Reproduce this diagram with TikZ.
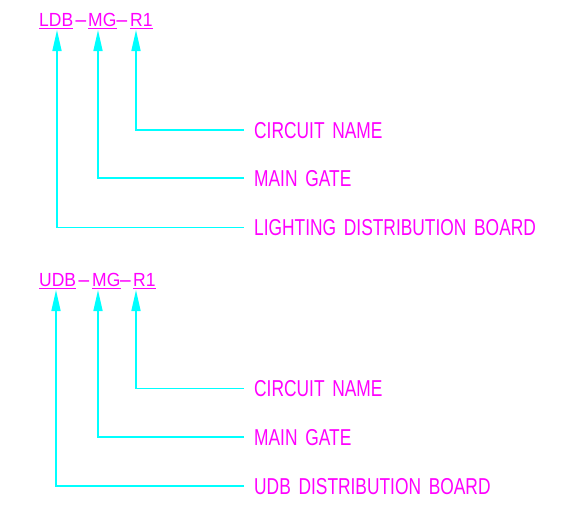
\documentclass[tikz,border=0pt]{standalone}
\usepackage{fontspec}
\newfontfamily\lblfont[FakeStretch=0.755,WordSpace=1.6]{Liberation Sans}
\newfontfamily\ttlfont[FakeStretch=0.92]{Liberation Sans}
\usetikzlibrary{arrows.meta}
\definecolor{cadmag}{RGB}{255,0,255}
\definecolor{cadcyan}{RGB}{0,255,255}
\begin{document}
\begin{tikzpicture}[x=1pt,y=-1pt,
  lbl/.style={anchor=west, inner xsep=10pt, inner ysep=0pt, text height=16.5pt, text depth=0pt,
    font=\lblfont\fontsize{23}{23}\selectfont, text=cadmag},
  ttl/.style={anchor=base west, inner sep=0pt, font=\ttlfont\fontsize{19}{19}\selectfont, text=cadmag},
  hyph/.style={anchor=base, inner sep=0pt, font=\ttlfont\fontsize{19}{19}\selectfont, text=cadmag},
  conn/.style={draw=cadcyan, line width=1.6pt, -{Triangle[length=21pt,width=9pt]}},
  uline/.style={draw=cadmag, line width=1.1pt}]
\useasboundingbox (0,0) rectangle (563,509);

% ---------- top group ----------
\node[ttl] (ta) at (39,26) {LDB};
\node[hyph] (th1) at (81,26) {\scalebox{2.5}[1]{-}};
\node[ttl] (tb) at (88,26) {MG};
\node[hyph] (th2) at (122,26) {\scalebox{2.5}[1]{-}};
\node[ttl] (tc) at (130,26) {R1};
\foreach \n in {ta,tb,tc}
  \draw[uline] ([yshift=-2.5pt]\n.base west) -- ([yshift=-2.5pt]\n.base east);

\coordinate (tipA) at (57,30);
\coordinate (tipB) at (98,30);
\coordinate (tipC) at (136,30);

\node[lbl] (lc) at (244,130) {CIRCUIT NAME};
\node[lbl] (lb) at (244,178) {MAIN GATE};
\node[lbl] (la) at (244,227.5) {LIGHTING DISTRIBUTION BOARD};

\draw[conn] (lc.west) -| (tipC);
\draw[conn] (lb.west) -| (tipB);
\draw[conn] (la.west) -| (tipA);

% ---------- bottom group ----------
\node[ttl] (ua) at (39,286) {UDB};
\node[hyph] (uh1) at (84,286) {\scalebox{2.5}[1]{-}};
\node[ttl] (ub) at (92,286) {MG};
\node[hyph] (uh2) at (125.5,286) {\scalebox{2.5}[1]{-}};
\node[ttl] (uc) at (133,286) {R1};
\foreach \n in {ua,ub,uc}
  \draw[uline] ([yshift=-2.5pt]\n.base west) -- ([yshift=-2.5pt]\n.base east);

\coordinate (utipA) at (56,290);
\coordinate (utipB) at (98,290);
\coordinate (utipC) at (136,290);

\node[lbl] (mc) at (244,388.5) {CIRCUIT NAME};
\node[lbl] (mb) at (244,437) {MAIN GATE};
\node[lbl] (ma) at (244,486) {UDB DISTRIBUTION BOARD};

\draw[conn] (mc.west) -| (utipC);
\draw[conn] (mb.west) -| (utipB);
\draw[conn] (ma.west) -| (utipA);
\end{tikzpicture}
\end{document}
